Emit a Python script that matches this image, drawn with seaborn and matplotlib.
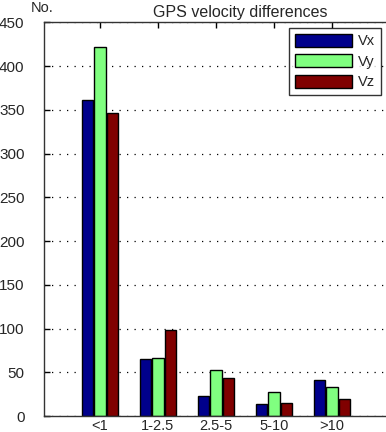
import numpy as np
import pandas as pd
import matplotlib
matplotlib.use("Agg")
import matplotlib.pyplot as plt
import seaborn as sns
from matplotlib.patches import Patch

categories = ["<1", "1-2.5", "2.5-5", "5-10", ">10"]
vx = [361, 65, 23, 14, 41]
vy = [422, 66, 53, 28, 33]
vz = [346, 98, 43, 15, 20]
series = ["Vx", "Vy", "Vz"]
colors = ["#00008c", "#80ff80", "#800000"]
yticks = [0, 50, 100, 150, 200, 250, 300, 350, 400, 450]

df = pd.DataFrame({
    "range": categories * 3,
    "value": vx + vy + vz,
    "comp": [s for s in series for _ in categories],
})

sns.set_theme(style="white")
plt.rcParams["font.family"] = ["Liberation Sans", "DejaVu Sans"]

W, H = 386, 432
fig = plt.figure(figsize=(W / 100, H / 100), dpi=100)
# axes box in pixels: left 44, right 436, top 22.5, bottom 416
ax = fig.add_axes([44 / W, 1 - 416 / H, (436 - 44) / W, (416 - 22.5) / H])

sns.barplot(data=df, x="range", y="value", hue="comp", order=categories,
            hue_order=series, palette=colors, width=0.66, gap=0.12,
            edgecolor="black", linewidth=1.0, saturation=1, ax=ax, legend=False)

px = 58.0
ax.set_xlim((44 - 100) / px, (436 - 100) / px)
ax.set_ylim(0, 450)
ax.set_yticks(yticks)
ax.set_yticklabels([str(t) for t in yticks])
ax.set_xlabel("")
ax.set_ylabel("")

ax.yaxis.grid(True, linestyle=(0, (1, 5)), color="black", linewidth=0.9)
ax.set_axisbelow(True)
ax.tick_params(axis="both", direction="in", length=4, width=1, color="black",
               top=True, right=True, bottom=True, left=True)
ax.tick_params(axis="y", labelsize=11, pad=14)
ax.tick_params(axis="x", labelsize=10.5, pad=2)
for s in ax.spines.values():
    s.set_color("#333333")
    s.set_linewidth(1.0)
    s.set_visible(True)

ax.set_title("GPS velocity differences", fontsize=11.5, pad=4)
fig.text(31 / W, 1 - 8 / H, "No.", fontsize=10.5, ha="left", va="center")

handles = [Patch(facecolor=c, edgecolor="black", linewidth=1.0) for c in colors]
leg = ax.legend(handles, series, loc="upper left",
                bbox_to_anchor=(289 / W, 1 - 28 / H), bbox_transform=fig.transFigure,
                frameon=True, fancybox=False, fontsize=10.5, handlelength=3.9,
                handleheight=1.0, labelspacing=0.4, handletextpad=0.4,
                borderpad=0.4, borderaxespad=0)
leg.get_frame().set_edgecolor("black")
leg.get_frame().set_linewidth(1.0)

fig.savefig("out.png", dpi=100)
